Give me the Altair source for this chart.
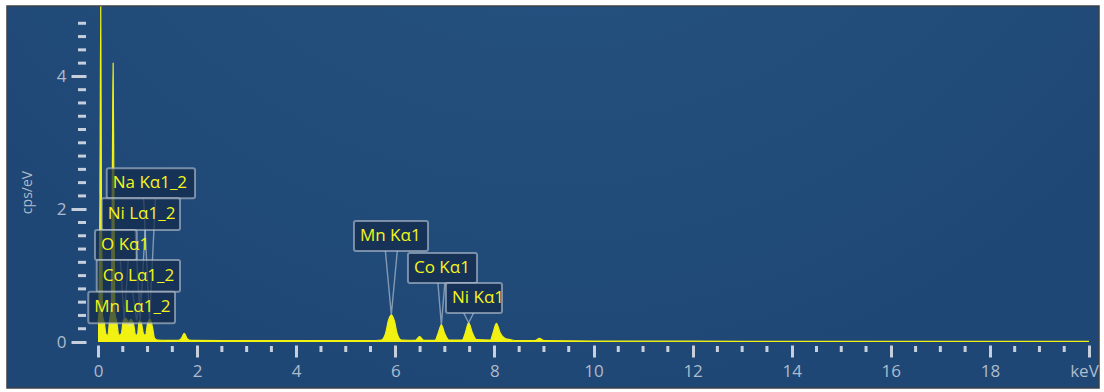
import altair as alt
import pandas as pd

# ---- EDS spectrum (energy in keV, intensity in cps/eV) ----
energy = [
    0.00, 0.02, 0.04, 0.055, 0.07, 0.09, 0.13, 0.16, 0.20, 0.23, 0.27, 0.29,
    0.305, 0.32, 0.34, 0.38, 0.42, 0.47, 0.51, 0.56, 0.61, 0.66, 0.72, 0.76,
    0.80, 0.83, 0.87, 0.92, 0.96, 1.00, 1.05, 1.10, 1.14, 1.20, 1.40, 1.62,
    1.68, 1.74, 1.80, 1.88, 2.5, 3.5, 4.5, 5.5, 5.72, 5.80, 5.86, 5.92, 5.98,
    6.04, 6.12, 6.40, 6.49, 6.58, 6.80, 6.86, 6.93, 7.00, 7.08, 7.35, 7.41,
    7.48, 7.56, 7.64, 7.92, 7.97, 8.04, 8.12, 8.22, 8.32, 8.45, 8.82, 8.91,
    9.00, 10.0, 12.0, 14.0, 16.0, 18.0, 20.0,
]
intensity = [
    0.30, 0.45, 2.2, 5.05, 2.0, 0.40, 0.28, 0.12, 0.10, 0.30, 0.55, 2.6,
    4.2, 2.4, 0.45, 0.30, 0.10, 0.12, 0.32, 0.36, 0.30, 0.34, 0.26, 0.10,
    0.12, 0.32, 0.30, 0.12, 0.10, 0.28, 0.34, 0.22, 0.06, 0.03, 0.025, 0.025,
    0.05, 0.13, 0.05, 0.025, 0.022, 0.02, 0.02, 0.02, 0.03, 0.12, 0.32, 0.41, 0.32,
    0.12, 0.03, 0.025, 0.08, 0.025, 0.025, 0.12, 0.26, 0.12, 0.03, 0.03, 0.13,
    0.29, 0.13, 0.035, 0.03, 0.13, 0.28, 0.13, 0.05, 0.035, 0.02, 0.02, 0.055,
    0.02, 0.015, 0.012, 0.01, 0.01, 0.008, 0.008,
]

# ---- Peak identifications ----
peak_labels = ["Na Kα1_2", "Ni Lα1_2", "O Kα1", "Co Lα1_2", "Mn Lα1_2",
               "Mn Kα1", "Co Kα1", "Ni Kα1"]
peak_energy = [1.04, 0.85, 0.53, 0.78, 0.64, 5.92, 6.93, 7.48]
peak_height = [0.33, 0.32, 0.33, 0.32, 0.24, 0.41, 0.26, 0.29]

# Callout boxes for the labels (keV / cps/eV extents)
box_left = [0.176, 0.075, -0.06, -0.026, -0.196, 5.166, 6.256, 7.023]
box_right = [1.958, 1.655, 0.781, 1.655, 1.554, 6.66, 7.649, 8.153]
box_top = [2.616, 2.164, 1.687, 1.235, 0.758, 1.822, 1.340, 0.889]
box_bottom = [2.164, 1.687, 1.235, 0.758, 0.282, 1.370, 0.889, 0.437]
pointer_half = [0.12, 0.10, 0.08, 0.08, 0.06, 0.12, 0.07, 0.10]

# ---- Axis ticks ----
x_major = [0, 2, 4, 6, 8, 10, 12, 14, 16, 18, 20]
x_minor = [m + d for m in range(0, 20, 2) for d in (0.5, 1.0, 1.5)]
y_major = [0, 2, 4]
y_minor = [round(v * 0.2, 1) for v in range(1, 25) if v % 10 != 0]

W, H = 991, 332
TICK = "#c6cfdb"
LABEL = "#aebbcc"
YELLOW = "#f2f212"
FONT = "Open Sans"

spec = pd.DataFrame({"keV": energy, "cps": intensity})
boxes = pd.DataFrame({
    "label": peak_labels, "left": box_left, "right": box_right,
    "top": box_top, "bottom": box_bottom,
})
pointer_rows = []
for lab, e, h, b, w in zip(peak_labels, peak_energy, peak_height, box_bottom, pointer_half):
    pointer_rows += [
        {"label": lab, "ord": 0, "keV": e - w, "cps": b},
        {"label": lab, "ord": 1, "keV": e, "cps": h},
        {"label": lab, "ord": 2, "keV": e + w, "cps": b},
    ]
pointers = pd.DataFrame(pointer_rows)

x_scale = alt.Scale(domain=[0, 20], nice=False, zero=False)
y_scale = alt.Scale(domain=[0, 5], nice=False, zero=False)

x_axis = alt.Axis(
    values=x_major, title=None, offset=3, domain=False, grid=False,
    tickSize=12, tickWidth=3, tickColor=TICK, labelPadding=6,
    labelExpr="datum.value == 20 ? 'keV' : datum.label",
    labelOffset=alt.condition("datum.value == 20", alt.value(-5), alt.value(0)),
    labelFont=FONT, labelFontSize=17, labelColor=LABEL, labelFlush=False, zindex=1,
)
y_axis = alt.Axis(
    values=y_major, title="cps/eV", offset=12, domain=False, grid=False,
    tickSize=15, tickWidth=3, tickColor=TICK, labelPadding=5,
    labelFont=FONT, labelFontSize=17, labelColor=LABEL, zindex=1,
    titleFont=FONT, titleFontSize=14, titleFontWeight="normal", titleColor=LABEL,
    titleAngle=270, titleAlign="center", titleBaseline="middle", titleX=-59, titleY=182,
)


def xq(field):
    return alt.X(field, scale=x_scale, axis=x_axis)


def yq(field):
    return alt.Y(field, scale=y_scale, axis=y_axis)


# Instrument-style panel behind everything
panel = alt.Chart(pd.DataFrame({"k": [0]})).mark_rect(
    fill=alt.RadialGradient(
        gradient="radial", x1=0.5, y1=0.0, r1=0.0, x2=0.5, y2=0.0, r2=0.7,
        stops=[alt.GradientStop(color="#29598a", offset=0.0),
               alt.GradientStop(color="#234f7d", offset=0.5),
               alt.GradientStop(color="#1f4775", offset=1.0)],
    ),
    stroke="#3c4047", strokeWidth=1.5,
).encode(x=alt.value(-91), x2=alt.value(1001), y=alt.value(-4), y2=alt.value(378))

spectrum = alt.Chart(spec).mark_area(
    color=YELLOW, opacity=1, interpolate="monotone",
    line={"color": YELLOW, "strokeWidth": 1.2},
).encode(x=xq("keV:Q"), y=yq("cps:Q"))

x_minor_ticks = alt.Chart(pd.DataFrame({"keV": x_minor})).mark_rule(
    color=TICK, strokeWidth=3
).encode(x=xq("keV:Q"), y=alt.value(H + 4), y2=alt.value(H + 10))

y_minor_ticks = alt.Chart(pd.DataFrame({"cps": y_minor})).mark_rule(
    color=TICK, strokeWidth=3
).encode(y=yq("cps:Q"), x=alt.value(-12), x2=alt.value(-20))

pointer_lines = alt.Chart(pointers).mark_line(
    color="#d3dbe5", strokeWidth=1.4, opacity=0.55
).encode(x=xq("keV:Q"), y=yq("cps:Q"), detail="label:N", order="ord:Q")

label_boxes = alt.Chart(boxes).mark_rect(
    fill="#132a48", fillOpacity=0.7, stroke="#b9c5d2", strokeOpacity=0.6,
    strokeWidth=2, cornerRadius=2,
).encode(x=xq("left:Q"), x2="right:Q", y=yq("top:Q"), y2="bottom:Q")

label_text = alt.Chart(boxes).transform_calculate(
    mid="(datum.top + datum.bottom) / 2"
).mark_text(
    align="left", baseline="middle", dx=6, font=FONT, fontSize=17, color="#f4f41c"
).encode(x=xq("left:Q"), y=yq("mid:Q"), text="label:N")

chart = alt.layer(
    panel, spectrum, x_minor_ticks, y_minor_ticks, pointer_lines, label_boxes, label_text
).properties(
    width=W, height=H,
    autosize=alt.AutoSizeParams(type="none"),
    padding={"left": 98, "top": 10, "right": 15, "bottom": 50},
    background="white",
).configure_view(stroke=None)

chart.save("out.html", embed_options={"renderer": "svg", "actions": False})
